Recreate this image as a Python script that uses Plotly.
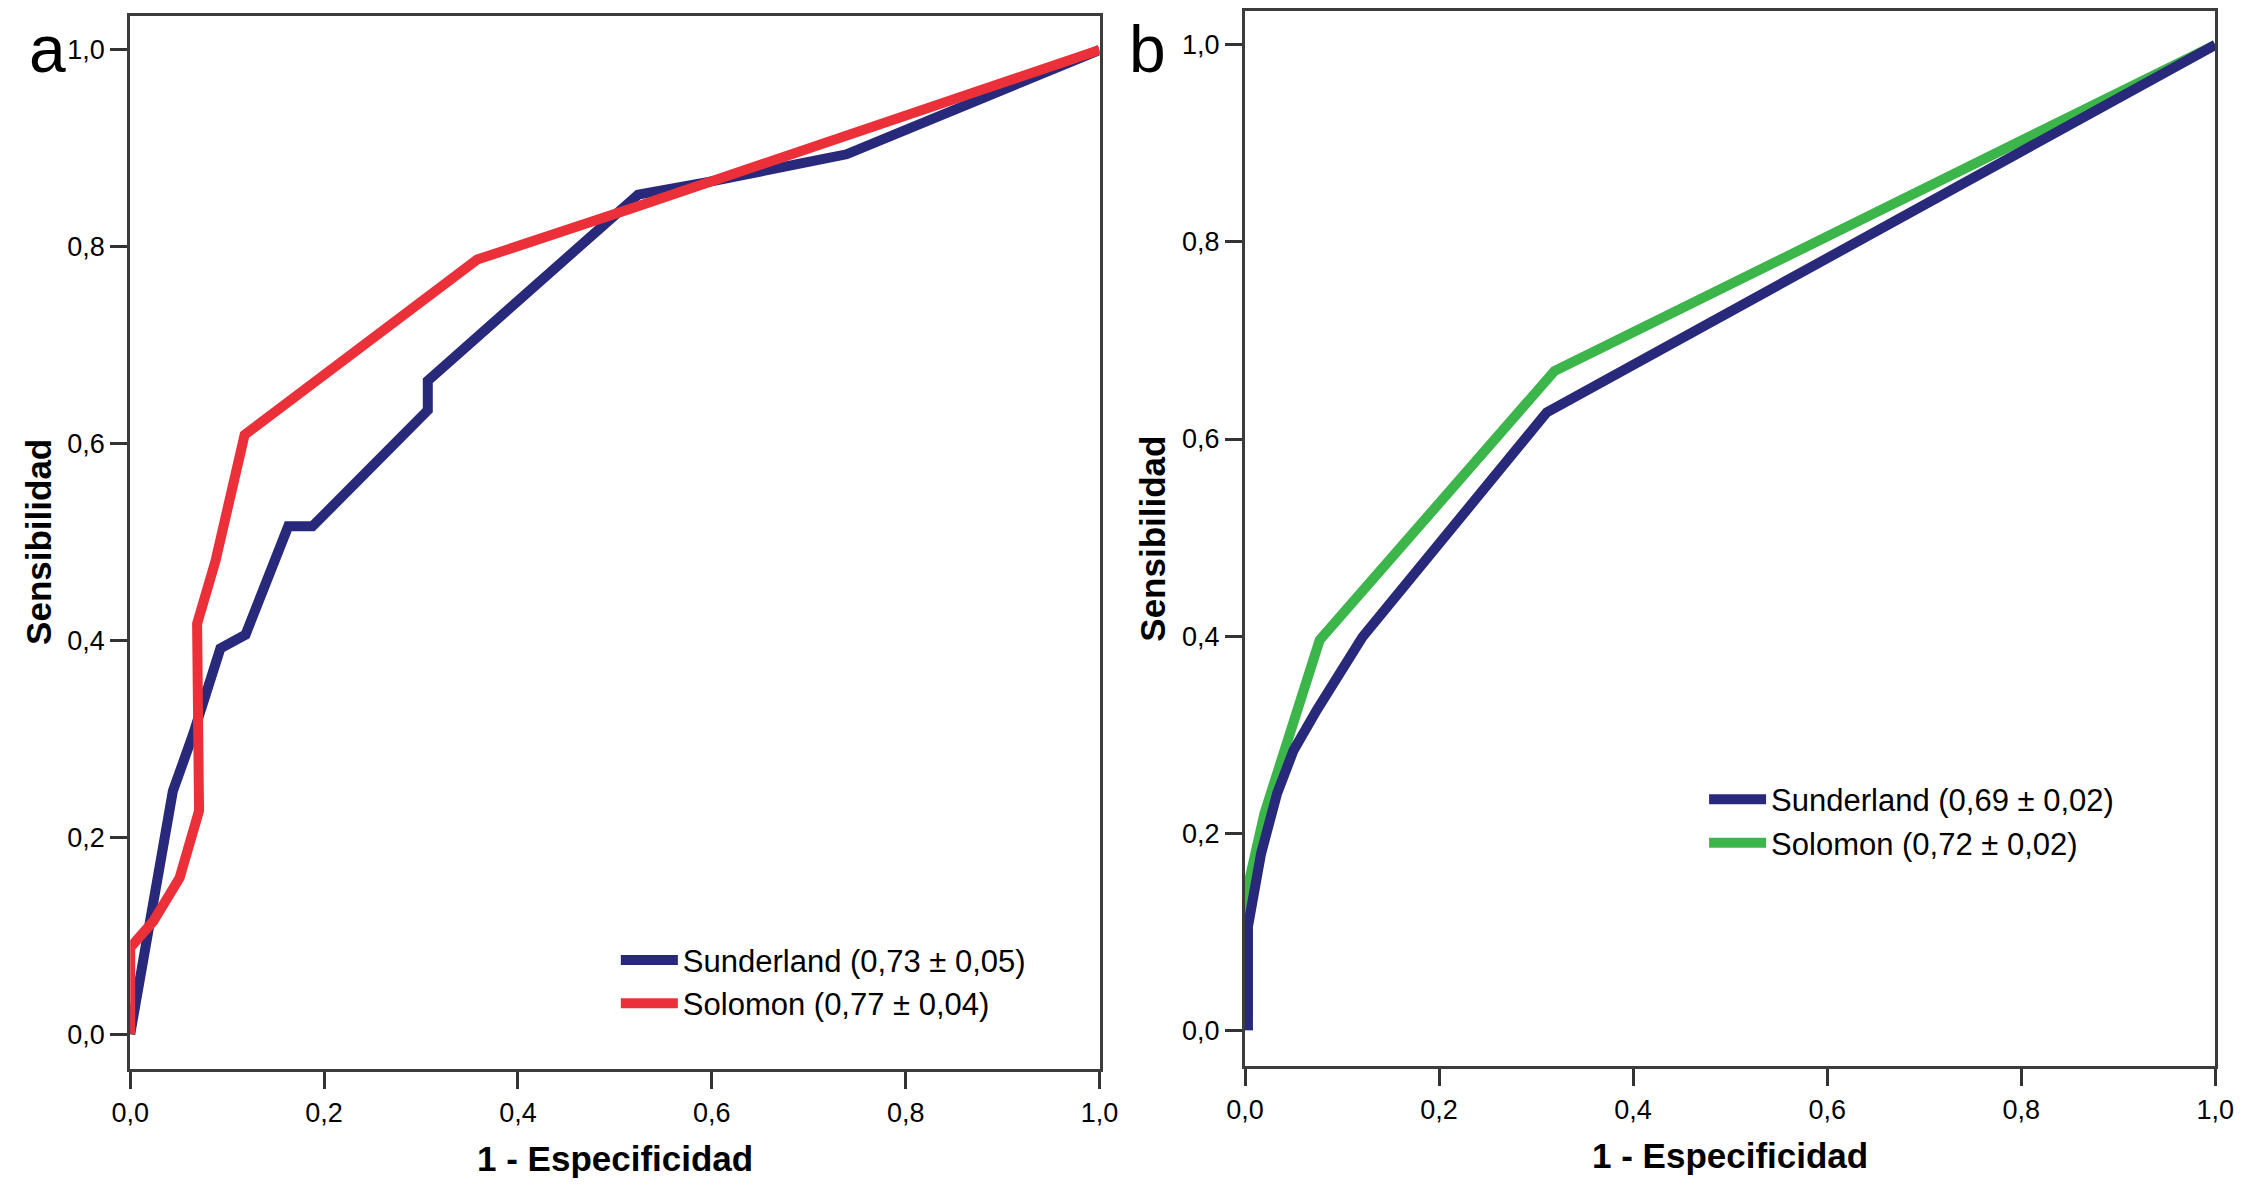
import plotly.graph_objects as go

# Panel a: ROC, 1 - specificity vs sensitivity
a_sunderland_fpr = [0.0, 0.014, 0.024, 0.044, 0.065, 0.093, 0.119, 0.163, 0.188, 0.307, 0.307, 0.524, 0.597, 0.739, 1.0]
a_sunderland_tpr = [0.0, 0.075, 0.136, 0.247, 0.305, 0.392, 0.406, 0.516, 0.516, 0.634, 0.664, 0.853, 0.866, 0.894, 1.0]
a_solomon_fpr = [0.0, 0.0, 0.024, 0.051, 0.071, 0.069, 0.088, 0.118, 0.358, 0.52, 1.0]
a_solomon_tpr = [0.0, 0.088, 0.115, 0.159, 0.227, 0.417, 0.481, 0.609, 0.787, 0.84, 1.0]

# Panel b
b_sunderland_fpr = [0.003, 0.003, 0.0165, 0.033, 0.05, 0.074, 0.121, 0.311, 1.0]
b_sunderland_tpr = [0.0, 0.105, 0.179, 0.24, 0.284, 0.325, 0.399, 0.627, 1.0]
b_solomon_fpr = [0.003, 0.003, 0.02, 0.045, 0.077, 0.319, 1.0]
b_solomon_tpr = [0.0, 0.146, 0.22, 0.294, 0.396, 0.669, 1.0]

names_a = ["Sunderland (0,73 \u00b1 0,05)", "Solomon (0,77 \u00b1 0,04)"]
names_b = ["Sunderland (0,69 \u00b1 0,02)", "Solomon (0,72 \u00b1 0,02)"]

NAVY = "#28297a"
RED = "#ec3039"
GREEN = "#3cb54a"
FONT = "Liberation Sans, Arial, sans-serif"

# the page body has an 8px margin, so the figure is sized to fit the window exactly
PAD = 8
W, H = 2258 - 2 * PAD, 1186 - 2 * PAD


def px(x):
    return (x - PAD) / W


def py(y):
    return 1 - (y - PAD) / H


fig = go.Figure()

# panel a: navy under red
fig.add_trace(go.Scatter(x=a_sunderland_fpr, y=a_sunderland_tpr, mode="lines", name=names_a[0],
                         line=dict(color=NAVY, width=10), xaxis="x", yaxis="y", legend="legend", legendrank=1))
fig.add_trace(go.Scatter(x=a_solomon_fpr, y=a_solomon_tpr, mode="lines", name=names_a[1],
                         line=dict(color=RED, width=10), xaxis="x", yaxis="y", legend="legend", legendrank=2))
# panel b: green under navy
fig.add_trace(go.Scatter(x=b_solomon_fpr, y=b_solomon_tpr, mode="lines", name=names_b[1],
                         line=dict(color=GREEN, width=10), xaxis="x2", yaxis="y2", legend="legend2", legendrank=2))
fig.add_trace(go.Scatter(x=b_sunderland_fpr, y=b_sunderland_tpr, mode="lines", name=names_b[0],
                         line=dict(color=NAVY, width=10), xaxis="x2", yaxis="y2", legend="legend2", legendrank=1))

axis_common = dict(
    showgrid=False, zeroline=False, showline=True, mirror=True,
    linecolor="#3c3c3c", linewidth=3,
    ticks="outside", ticklen=17, tickwidth=3, tickcolor="#333333",
    tick0=0, dtick=0.2, tickformat=".1f",
    tickfont=dict(family=FONT, size=27, color="black"),
)

legend_common = dict(xanchor="left", yanchor="top", itemwidth=57, bgcolor="rgba(0,0,0,0)",
                     font=dict(family=FONT, size=31, color="black"), traceorder="normal")

fig.update_layout(
    width=W, height=H,
    margin=dict(l=0, r=0, t=0, b=0),
    paper_bgcolor="white", plot_bgcolor="white",
    separators=",.",
    xaxis=dict(domain=[px(113), px(1099)], range=[0, 1], anchor="y", **axis_common),
    yaxis=dict(domain=[py(1069), py(14)], range=[-0.0355, 1.0345], anchor="x", **axis_common),
    xaxis2=dict(domain=[px(1247), px(2234)], range=[0, 1], anchor="y2", **axis_common),
    yaxis2=dict(domain=[py(1066), py(9.5)], range=[-0.0365, 1.0339], anchor="x2", **axis_common),
    legend=dict(x=px(607), y=py(933), **legend_common),
    legend2=dict(x=px(1714), y=py(772), **legend_common),
)

# axis titles and panel letters
title_font = dict(family=FONT, size=35, color="black", weight="bold")
for xc, yc in [(606, 1158), (1740, 1155)]:
    fig.add_annotation(text="1 - Especificidad", x=px(xc), y=py(yc), xref="paper", yref="paper",
                       showarrow=False, xanchor="center", yanchor="middle", font=title_font)
for xc, yc in [(19, 541), (1153, 538)]:
    fig.add_annotation(text="Sensibilidad", x=px(xc), y=py(yc), xref="paper", yref="paper",
                       showarrow=False, xanchor="center", yanchor="middle", textangle=-90, font=title_font)
for letter, xc in [("a", 29), ("b", 1148)]:
    fig.add_annotation(text=letter, x=px(xc), y=1, xref="paper", yref="paper",
                       showarrow=False, xanchor="center", yanchor="top",
                       font=dict(family=FONT, size=66, color="black"))

fig.write_html("out.html")
